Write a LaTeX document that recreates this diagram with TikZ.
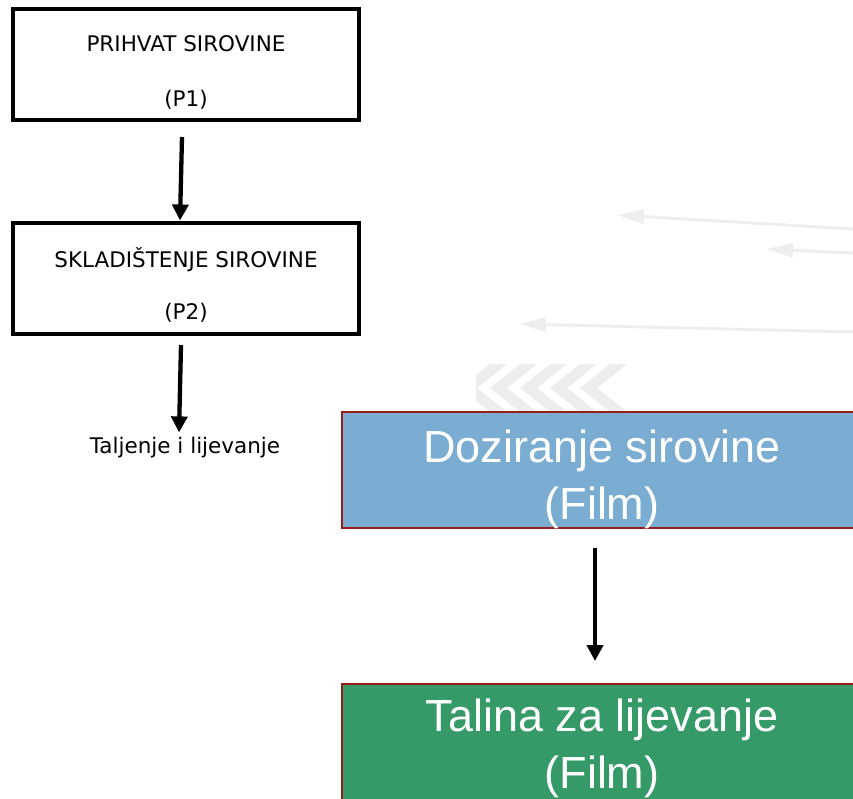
\documentclass[tikz,border=0pt]{standalone}
\usepackage{fontspec}
\setmainfont{DejaVu Sans}
\newfontfamily\bigf{Liberation Sans}
\usetikzlibrary{arrows.meta,calc}
\definecolor{blueF}{HTML}{7BADD3}
\definecolor{greenF}{HTML}{359A68}
\definecolor{redB}{HTML}{9B1C1C}
\definecolor{faint}{HTML}{EDEDED}
\definecolor{faintarr}{HTML}{EEEEEE}
\tikzset{
  pbox/.style={draw=black, line width=4pt, minimum width=346pt, minimum height=111pt, inner sep=0pt},
  ptext/.style={font=\fontsize{21.5}{26}\selectfont, inner sep=0pt},
  bigbox/.style={draw=redB, line width=2pt, minimum width=520pt, minimum height=116pt, inner sep=0pt},
  bigtext/.style={text=white, align=center, inner sep=0pt, font=\bigf\fontsize{45}{57}\selectfont},
  arr/.style={line width=4.3pt, -{Triangle[length=16pt,width=16pt]}},
  farr/.style={draw=faintarr, line width=3pt, -{Triangle[length=27pt,width=14pt]}},
}
\begin{document}
\begin{tikzpicture}[x=1pt,y=-1pt]
\useasboundingbox (0,0) rectangle (853,798);
\clip (0,0) rectangle (853,798);
% faint background arrows
\coordinate (fa1s) at (853,229); \coordinate (fa1e) at (617,215);
\coordinate (fa2s) at (853,253); \coordinate (fa2e) at (766,249);
\coordinate (fa3s) at (853,332); \coordinate (fa3e) at (519,324);
\draw[farr] (fa1s) -- (fa1e);
\draw[farr] (fa2s) -- (fa2e);
\draw[farr] (fa3s) -- (fa3e);
% faint chevrons
\begin{scope}
\clip (476,363) rectangle (640,412);
\foreach \i in {0,...,4}{
  \pgfmathsetmacro{\xr}{507+30*\i}
  \fill[faint] (\xr,364) -- (\xr-17,364) -- (\xr-47,388) -- (\xr-17,412) -- (\xr,412) -- (\xr-30,388) -- cycle;
}
\end{scope}
% left flow
\node[pbox] (p1) at (185.5,64.5) {};
\node[ptext] (p1a) at (186,44) {PRIHVAT SIROVINE};
\node[ptext] (p1b) at (186,100) {(P1)};
\node[pbox] (p2) at (185.5,278) {};
\node[ptext] (p2a) at (186,260) {SKLADIŠTENJE SIROVINE};
\node[ptext] (p2b) at (186,313) {(P2)};
\node[ptext] (t1) at (185,448) {Taljenje i lijevanje};
\coordinate (a1s) at (182,137);
\coordinate (a2s) at (181,345);
\draw[arr] (a1s) -- (p2.north -| 180,0);
\draw[arr] (a2s) -- ($(t1.north -| 179,0)+(0,-5)$);
% right flow
\node[bigbox, fill=blueF] (b1) at (602,470) {};
\node[bigtext] (b1t) at (602,479) {Doziranje sirovine\\(Film)};
\node[bigbox, fill=greenF] (b2) at (602,742) {};
\node[bigtext] (b2t) at (602,748) {Talina za lijevanje\\(Film)};
\coordinate (a3s) at (595,548);
\draw[arr] (a3s) -- ($(b2.north -| 595,0)+(0,-22)$);
\end{tikzpicture}
\end{document}
